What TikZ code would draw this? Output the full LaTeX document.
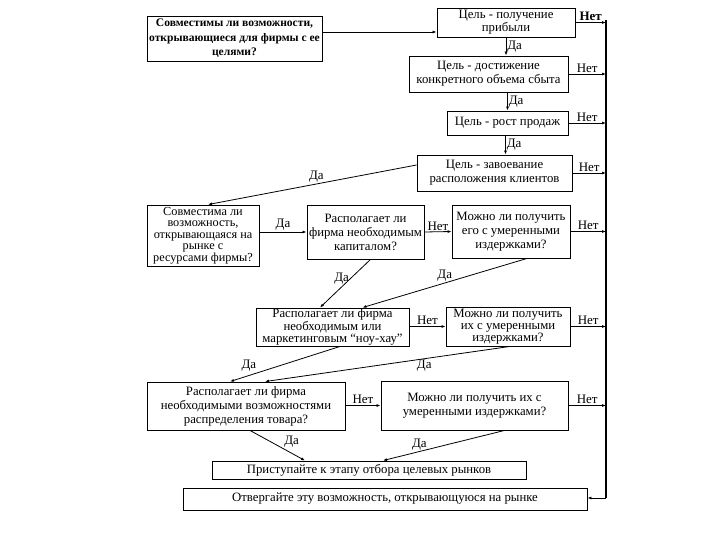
\documentclass[tikz,border=0pt]{standalone}
\usepackage{fontspec}
\setmainfont{Liberation Serif}
\usetikzlibrary{arrows.meta, positioning}
\tikzset{
    box/.style={draw, line width=0.9pt, align=center, inner sep=1pt, font=\fontsize{12.8}{14}\selectfont},
    tight/.style={font=\fontsize{12.8}{12.2}\selectfont},
    arr/.style={-{Latex[length=4pt,width=3pt]}, line width=0.8pt},
    lbl/.style={font=\fontsize{13}{15}\selectfont, inner sep=1pt}
}

\begin{document}
\begin{tikzpicture}[x=1bp, y=-1bp]
        \useasboundingbox (0,0) rectangle (720,540);

        \node[box, font=\bfseries\fontsize{11.6}{14.5}\selectfont, minimum width=175bp, minimum height=45bp] (A) at (234.5,38.5)
            {Совместимы ли возможности,\\ открывающиеся для фирмы с ее\\ целями?};
        \node[box, font=\fontsize{12.8}{13}\selectfont, minimum width=138bp, minimum height=29bp] (G1) at (506,22.5) {Цель - получение\\ прибыли};
        \node[box, minimum width=159bp, minimum height=36bp] (G2) at (488.5,74) {Цель - достижение\\ конкретного объема сбыта};
        \node[box, minimum width=121bp, minimum height=24bp] (G3) at (507.5,123) {Цель - рост продаж};
        \node[box, minimum width=155bp, minimum height=36bp] (G4) at (494.5,173) {Цель - завоевание\\ расположения клиентов};

        \node[box, font=\fontsize{12.3}{11.6}\selectfont, minimum width=112bp, minimum height=61bp] (R) at (203,235.5)
            {Совместима ли\\ возможность,\\ открывающаяся на\\ рынке с\\ ресурсами фирмы?};
        \node[box, minimum width=117bp, minimum height=54bp] (K) at (365.5,232) {Располагает ли\\ фирма необходимым\\ капиталом?};
        \node[box, minimum width=118bp, minimum height=53bp] (C1) at (511,231.5) {Можно ли получить\\ его с умеренными\\ издержками?};

        \node[box, tight, minimum width=153bp, minimum height=38bp] (N) at (332.5,327) {Располагает ли фирма\\ необходимым или\\ маркетинговым “ноу-хау”};
        \node[box, tight, minimum width=124bp, minimum height=39bp] (C2) at (508,326.5) {Можно ли получить\\ их с умеренными\\ издержками?};

        \node[box, minimum width=198bp, minimum height=48bp] (D) at (246,406) {Располагает ли фирма\\ необходимыми возможностями\\ распределения товара?};
        \node[box, minimum width=187bp, minimum height=49bp] (C3) at (474.5,405.5) {Можно ли получить их с\\ умеренными издержками?};

        \node[box, minimum width=314bp, minimum height=18bp] (P) at (369,470) {Приступайте к этапу отбора целевых рынков};
        \node[box, minimum width=404bp, minimum height=22bp] (O) at (385,499) {Отвергайте эту возможность, открывающуюся на рынке};

        \coordinate (bustop) at (606,20);
        \coordinate (busbot) at (606,498);
        \coordinate (a1) at ([yshift=6.5bp]A.east);

        \draw[arr] (a1) -- (a1 -| G1.west);
        \draw[arr] (G1.south) -- (G1.south |- G2.north) node[lbl, midway, right] {Да};
        \draw[arr] (G3.north |- G2.south) -- (G3.north) node[lbl, midway, right] {Да};
        \draw[arr] ([xshift=-2bp]G3.south) -- ([xshift=-2bp]G3.south |- G4.north) node[lbl, midway, right] {Да};
        \draw[arr] ([yshift=8bp]G4.west) -- ([xshift=5bp]R.north) node[lbl, pos=0.48, above] {Да};

        \draw[arr] (K.west -| R.east) -- (K.west) node[lbl, midway, above] {Да};
        \draw[arr] (K.east) -- (C1.west) node[lbl, midway, above] {Нет};
        \draw[arr] ([xshift=5bp]K.south) -- ([xshift=-12.5bp]N.north) node[lbl, pos=0.4, left] {Да};
        \draw[arr] ([xshift=16bp]C1.south) -- ([xshift=30bp]N.north) node[lbl, pos=0.5, above] {Да};

        \draw[arr] (N.east |- C2.west) -- (C2.west) node[lbl, midway, above] {Нет};
        \draw[arr] ([xshift=7.5bp]N.south) -- ([xshift=-16bp]D.north) node[lbl, pos=0.75, above left] {Да};
        \draw[arr] ([xshift=2bp]C2.south) -- ([xshift=19bp]D.north) node[lbl, pos=0.35, below] {Да};

        \draw[arr] (D.east |- C3.west) -- (C3.west) node[lbl, midway, above] {Нет};
        \draw[arr] ([xshift=4bp]D.south) -- ([xshift=-64bp]P.north) node[lbl, pos=0.6, above right] {Да};
        \draw[arr] ([xshift=30bp]C3.south) -- ([xshift=14bp]P.north) node[lbl, pos=0.7, above] {Да};

        \draw[line width=1.6pt] (bustop) -- (busbot);
        \draw[arr] (G1.east) -- (G1.east -| bustop) node[lbl, font=\bfseries\fontsize{13}{15}\selectfont, midway, above] {Нет};
        \foreach \n in {G2, G3, G4, C1, C2, C3}
            \draw[arr] (\n.east) -- (\n.east -| bustop) node[lbl, midway, above] {Нет};
        \draw[arr] (busbot) -- (busbot -| O.east);
    \end{tikzpicture}
\end{document}
